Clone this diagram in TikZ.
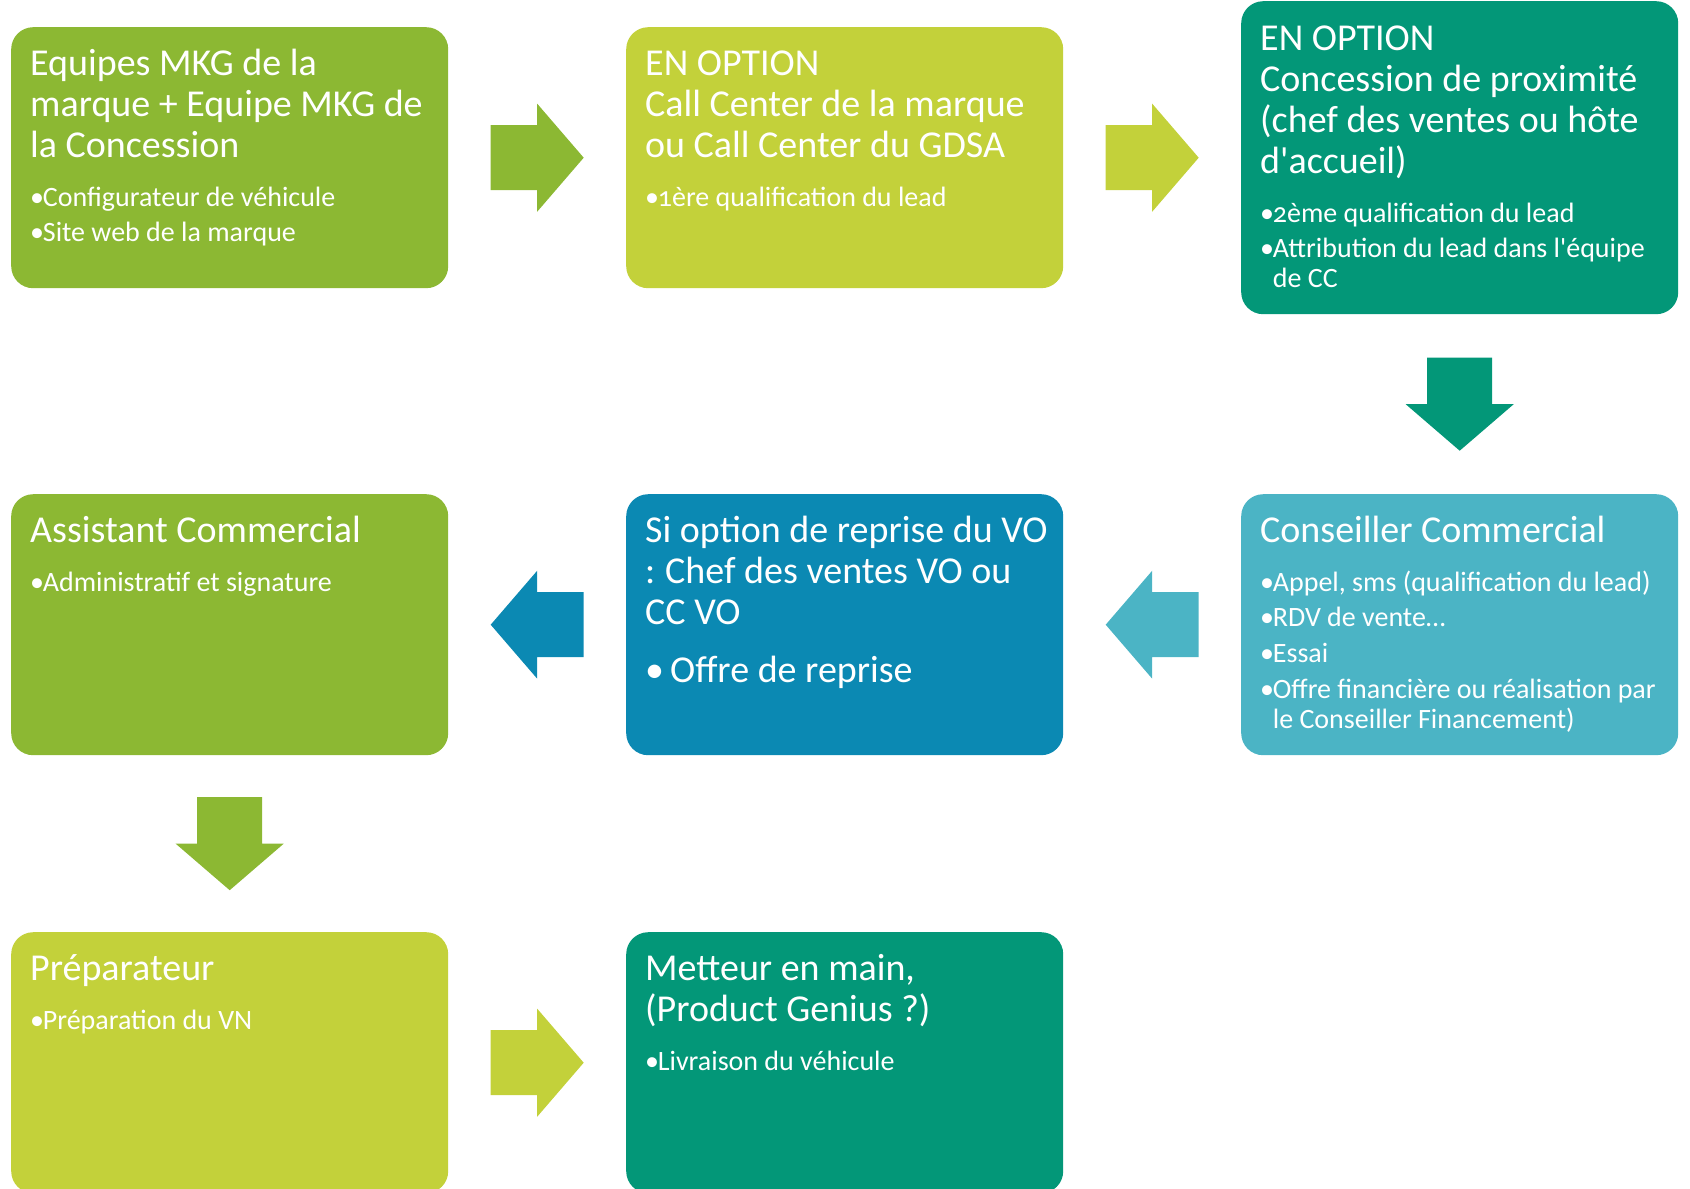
\documentclass[tikz,border=0pt]{standalone}
\usepackage{fontspec}
\setmainfont{Carlito}[Numbers=OldStyle]
\usetikzlibrary{positioning,calc}

\definecolor{vert}{HTML}{8CB833}
\definecolor{anis}{HTML}{C3D13A}
\definecolor{emeraude}{HTML}{039778}
\definecolor{turquoise}{HTML}{4BB4C5}
\definecolor{bleu}{HTML}{0B89B3}

\setlength\parskip{0pt}
\newcommand\espaces{\spaceskip=.226em plus .1em\xspaceskip=.26em plus .1em\relax}
\newcommand\titre{\fontsize{38}{41}\selectfont\espaces}
\newcommand\puce[1][5.7pt]{\par\fontsize{28}{30}\selectfont\espaces\vspace{#1}%
  \hangindent=12.7pt\hangafter=1\noindent\makebox[12.7pt][l]{•}}

\begin{document}
\begin{tikzpicture}[x=1pt, y=-1pt,
   boite/.style={anchor=north west, minimum width=437pt, minimum height=261pt,
      rounded corners=22pt, inner sep=0pt},
   texte/.style={anchor=base west, text width=415pt, align=left, inner sep=0pt, text=white},
   fleche/.pic={\fill (-46.5,-32.5) -- (0,-32.5) -- (0,-54) -- (46.5,0)
      -- (0,54) -- (0,32.5) -- (-46.5,32.5) -- cycle;}]
\useasboundingbox (0,0) rectangle (1690,1189);
\clip (0,0) rectangle (1690,1189);

\node[boite, fill=vert] (equipes) at (11,27) {};
\node[boite, fill=anis] (callcenter) at (626,27) {};
\node[boite, fill=emeraude, minimum height=313pt] (proximite) at (1241,1) {};
\node[boite, fill=turquoise] (conseiller) at (1241,494) {};
\node[boite, fill=bleu] (reprise) at (626,494) {};
\node[boite, fill=vert] (assistant) at (11,494) {};
\node[boite, fill=anis] (preparateur) at (11,932) {};
\node[boite, fill=emeraude] (metteur) at (626,932) {};

\node[texte] (equipes-txt) at ([shift={(19,48)}]equipes.north west)
   {\titre Equipes MKG de la\\ marque + Equipe MKG de\\ la Concession
    \puce[19pt]Configurateur de véhicule
    \puce Site web de la marque\par};
\node[texte] (callcenter-txt) at ([shift={(19,48)}]callcenter.north west)
   {\titre EN OPTION\\ Call Center de la marque\\ ou Call Center du GDSA
    \puce[19pt]1ère qualification du lead\par};
\node[texte] (proximite-txt) at ([shift={(19,49)}]proximite.north west)
   {\titre EN OPTION\\ Concession de proximité\\ (chef des ventes ou hôte\\ d\textquotesingle{}accueil)
    \puce[19pt]2ème qualification du lead
    \puce Attribution du lead dans l\textquotesingle{}équipe\newline de CC\par};
\node[texte] (conseiller-txt) at ([shift={(19,48)}]conseiller.north west)
   {\titre Conseiller Commercial
    \puce[19pt]Appel, sms (qualification du lead)
    \puce RDV de vente…
    \puce Essai
    \puce Offre financière ou réalisation par\newline le Conseiller Financement)\par};
\node[texte] (reprise-txt) at ([shift={(19,48)}]reprise.north west)
   {\titre Si option de reprise du VO\\ : Chef des ventes VO ou\\ CC VO\par
    \vspace{17pt}\noindent\makebox[25pt][l]{•}Offre de reprise\par};
\node[texte] (assistant-txt) at ([shift={(19,48)}]assistant.north west)
   {\titre Assistant Commercial
    \puce[19pt]Administratif et signature\par};
\node[texte] (preparateur-txt) at ([shift={(19,48)}]preparateur.north west)
   {\titre Préparateur
    \puce[19pt]Préparation du VN\par};
\node[texte] (metteur-txt) at ([shift={(19,48)}]metteur.north west)
   {\titre Metteur en main,\\ (Product Genius ?)
    \puce[19pt]Livraison du véhicule\par};

\pic[vert] at ($(equipes.east)!0.5!(callcenter.west)$) {fleche};
\pic[anis] at ($(callcenter.east)!0.5!(proximite.west)$) {fleche};
\pic[emeraude, rotate=-90] at ($(proximite.south)!0.5!(conseiller.north)$) {fleche};
\pic[turquoise, rotate=180] at ($(conseiller.west)!0.5!(reprise.east)$) {fleche};
\pic[bleu, rotate=180] at ($(reprise.west)!0.5!(assistant.east)$) {fleche};
\pic[vert, rotate=-90] at ($(assistant.south)!0.5!(preparateur.north)$) {fleche};
\pic[anis] at ($(preparateur.east)!0.5!(metteur.west)$) {fleche};
\end{tikzpicture}
\end{document}
